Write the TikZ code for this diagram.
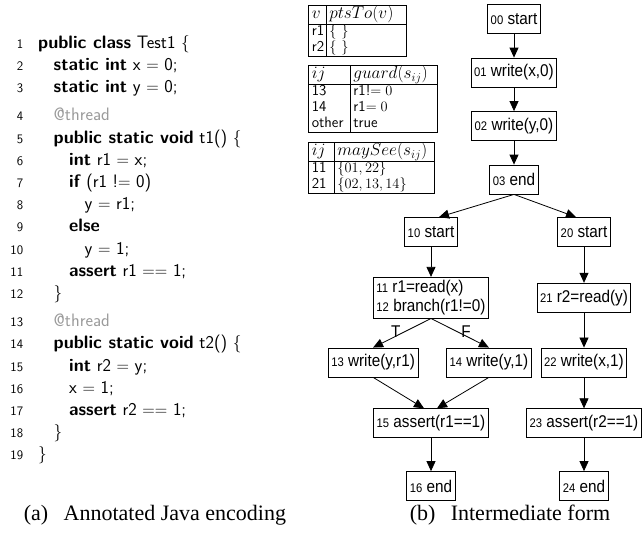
\documentclass[tikz,border=0pt]{standalone}
\usepackage[no-math]{fontspec}
\usepackage{array}
\usepackage{tikz}
\usetikzlibrary{positioning,arrows.meta}
\newfontfamily\boxfont[FakeStretch=0.9]{Liberation Sans}
\newfontfamily\capfont{Liberation Serif}
\definecolor{colorannot}{RGB}{155,155,155}
\definecolor{colortext} {RGB}{0  ,0  ,0  }
\setlength{\tabcolsep}{3pt}
\setlength{\arrayrulewidth}{0.6pt}
\newcommand{\nr}[1]{{\fontsize{12.5}{14}\selectfont #1}}
\newcommand{\kw}[1]{\textbf{#1}}
\newcommand{\ind}{\hspace*{15.5pt}}
\newcommand{\annot}{\textcolor{colorannot}{@thread}}
\newcommand{\hd}[1]{{\fontsize{17.5}{16.5}\selectfont$#1$}}

\begin{document}
\begin{tikzpicture}[
    x=1pt, y=1pt,
    node distance = 23.7pt,
    stmt/.style={draw=colortext,line width=0.8pt,inner sep=3pt,minimum height=29pt,
                 font={\boxfont\fontsize{17}{19}\selectfont}},
    lbl/.style={font={\boxfont\fontsize{17}{19}\selectfont},inner sep=1pt},
    flow/.style={-{Triangle[length=10pt,width=9pt]},line width=0.8pt},
    tbl/.style={anchor=north west,inner sep=0pt,font={\fontsize{15}{16}\selectfont\sffamily}},
    code/.style={anchor=north west,inner sep=0pt,font={\fontsize{18}{22.2}\selectfont\sffamily}},
    caption/.style={font={\capfont\fontsize{22}{24}\selectfont}},
]
    \useasboundingbox (0,0) rectangle (642,-552);

    % Java source
    \node[code] (listing) at (9,-32.5) {%
      \begin{tabular}{@{}>{\raggedleft\arraybackslash\fontsize{13}{15}\selectfont}p{14pt}@{\hspace{15pt}}l@{}}
       1 & \kw{public class} Test1 $\{$\\
       2 & \ind\kw{static int} x $=$ 0;\\
       3 & \ind\kw{static int} y $=$ 0;\\[6pt]
       4 & \ind\annot\\
       5 & \ind\kw{public static void} t1() $\{$\\
       6 & \ind\ind\kw{int} r1 $=$ x;\\
       7 & \ind\ind\kw{if} (r1 !$=$ 0)\\
       8 & \ind\ind\ind y $=$ r1;\\
       9 & \ind\ind\kw{else}\\
      10 & \ind\ind\ind y $=$ 1;\\
      11 & \ind\ind\kw{assert} r1 $==$ 1;\\
      12 & \ind$\}$\\[6pt]
      13 & \ind\annot\\
      14 & \ind\kw{public static void} t2() $\{$\\
      15 & \ind\ind\kw{int} r2 $=$ y;\\
      16 & \ind\ind x $=$ 1;\\
      17 & \ind\ind\kw{assert} r2 $==$ 1;\\
      18 & \ind$\}$\\
      19 & $\}$
      \end{tabular}};

    % Tables
    \node[tbl] (ptsto) at (308,-5) {%
      \begin{tabular}{|p{11pt}|p{74pt}|}
        \hline
        \hd{v} & \hd{ptsTo(v)}\\ \hline
        r1 & $\{\ \}$\\
        r2 & $\{\ \}$\\ \hline
      \end{tabular}};
    \node[tbl] (guard) at (308,-65) {%
      \begin{tabular}{|p{35pt}|p{81pt}|}
        \hline
        \hd{ij} & \hd{guard(s_{ij})}\\ \hline
        13 & r1!$=0$\\
        14 & r1$=0$\\
        other & true\\ \hline
      \end{tabular}};
    \node[tbl] (maysee) at (308,-142) {%
      \begin{tabular}{|p{19pt}|p{94pt}|}
        \hline
        \hd{ij} & \hd{maySee(s_{ij})}\\ \hline
        11 & $\{01, 22\}$\\
        21 & $\{02, 13, 14\}$\\ \hline
      \end{tabular}};

    % Main thread
    \node[stmt] (start00) at (514,-19) {\nr{00} start};
    \node[stmt,below=of start00] (write01) {\nr{01} write(x,0)};
    \node[stmt,below=of write01] (write02) {\nr{02} write(y,0)};
    \node[stmt,below=of write02] (end03)   {\nr{03} end};

    % Thread t1
    \node[stmt] (start10) at (431,-232) {\nr{10} start};
    \node[stmt,align=left,below=30pt of start10] (read11) {\nr{11} r1=read(x)\\\nr{12} branch(r1!=0)};
    \node[stmt,below=29pt of read11.south west] (write13) {\nr{13} write(y,r1)};
    \node[stmt,below=29pt of read11.south east] (write14) {\nr{14} write(y,1)};
    \coordinate (join15) at (read11 |- write13.south);
    \node[stmt,below=31pt of join15] (assert15) {\nr{15} assert(r1==1)};
    \node[stmt,below=33pt of assert15] (end16)   {\nr{16} end};

    % Thread t2
    \node[stmt] (start20) at (584,-232) {\nr{20} start};
    \node[stmt] (read21)   at (start20 |- read11)   {\nr{21} r2=read(y)};
    \node[stmt] (write22)  at (start20 |- write13)  {\nr{22} write(x,1)};
    \node[stmt] (assert23) at (start20 |- assert15) {\nr{23} assert(r2==1)};
    \node[stmt] (end24)    at (start20 |- end16)    {\nr{24} end};

    % Arrows
    \draw[flow] (start00) -- (write01);
    \draw[flow] (write01) -- (write02);
    \draw[flow] (write02) -- (end03);
    \draw[flow] (end03.south) -- ([xshift=8pt]start10.north);
    \draw[flow] (end03.south) -- ([xshift=-8pt]start20.north);
    \draw[flow] (start10) -- (read11);
    \draw[flow] (read11.south) -- node[lbl,pos=.45,left=3pt]  {T} (write13.north);
    \draw[flow] (read11.south) -- node[lbl,pos=.45,right=3pt] {F} (write14.north);
    \draw[flow] (write13.south) -- ([xshift=-7pt]assert15.north);
    \draw[flow] (write14.south) -- ([xshift=6pt]assert15.north);
    \draw[flow] (assert15) -- (end16);
    \draw[flow] (start20) -- (read21);
    \draw[flow] (read21) -- (write22);
    \draw[flow] (write22) -- (assert23);
    \draw[flow] (assert23) -- (end24);

    % Captions
    \node[caption] (capa) at (155,-515) {(a)\hspace{0.7em}Annotated Java encoding};
    \node[caption] (capb) at (510,-515) {(b)\hspace{0.7em}Intermediate form};

\end{tikzpicture}
\end{document}
